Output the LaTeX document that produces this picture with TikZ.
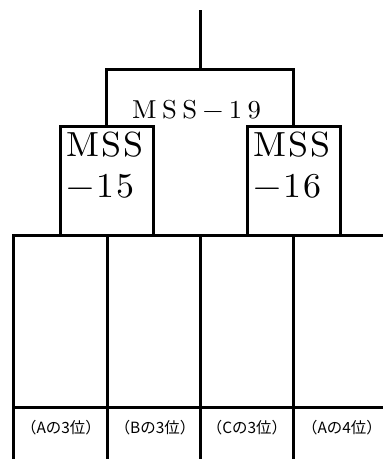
\documentclass[tikz,border=0pt]{standalone}
\usepackage{fontspec}
\setmainfont{lmroman10-regular}[Extension=.otf]
\newfontfamily\bigf{lmroman10-regular}[Extension=.otf, FakeStretch=1.03, LetterSpace=7]
\newfontfamily\midf{lmroman10-regular}[Extension=.otf, FakeStretch=1.03, LetterSpace=21]
\newfontfamily\jp{Noto Sans CJK JP}
\begin{document}
\begin{tikzpicture}[x=1bp,y=-1bp,
  ln/.style={line width=3bp, line cap=rect},
  boxst/.style={draw, line width=3bp, minimum width=93bp, minimum height=108bp, inner sep=0pt},
  big/.style={font=\bigf\fontsize{35}{41}\selectfont, inner sep=0pt},
  mid/.style={font=\midf\fontsize{26}{30}\selectfont, inner sep=0pt},
  lbl/.style={font=\jp\fontsize{15.5}{18}\selectfont, inner sep=0pt}]
\useasboundingbox (0,0) rectangle (382,459);
% top bracket
\coordinate (top) at (200,12);
\coordinate (j) at (200,70);
\coordinate (jl) at (107,70);
\coordinate (jr) at (293,70);
\node[boxst] (b15) at (106.5,181) {};
\node[boxst] (b16) at (293.5,181) {};
\draw[ln] (top) -- (j);
\draw[ln] (b15.north) -- (b15.north |- jl) -- (b16.north |- jr) -- (b16.north);
% texts
\node[mid, anchor=base west] (m19) at (132,119) {MSS−19};
\node[big, anchor=base west] (t15a) at (66,157) {MSS};
\node[big, anchor=base west] (t15b) at (66,198) {−15};
\node[big, anchor=base west] (t16a) at (253,157) {MSS};
\node[big, anchor=base west] (t16b) at (253,198) {−16};
% grid
\coordinate (g1) at (13,235);
\coordinate (g2) at (382,235);
\coordinate (h1) at (13,407);
\coordinate (h2) at (382,407);
\draw[ln] (g1) -- (g2);
\draw[ln] (h1) -- (h2);
\foreach \x/\n in {13/c1,107/c2,200/c3,293/c4}{
  \coordinate (\n t) at (\x,235);
  \coordinate (\n b) at (\x,459);
  \draw[line width=3bp] (\n t) -- (\n b);
}
% labels
\node[lbl] (l1) at (61,428) {（Aの3位）};
\node[lbl] (l2) at (155,428) {（Bの3位）};
\node[lbl] (l3) at (247,428) {（Cの3位）};
\node[lbl] (l4) at (342,428) {（Aの4位）};
\end{tikzpicture}
\end{document}
